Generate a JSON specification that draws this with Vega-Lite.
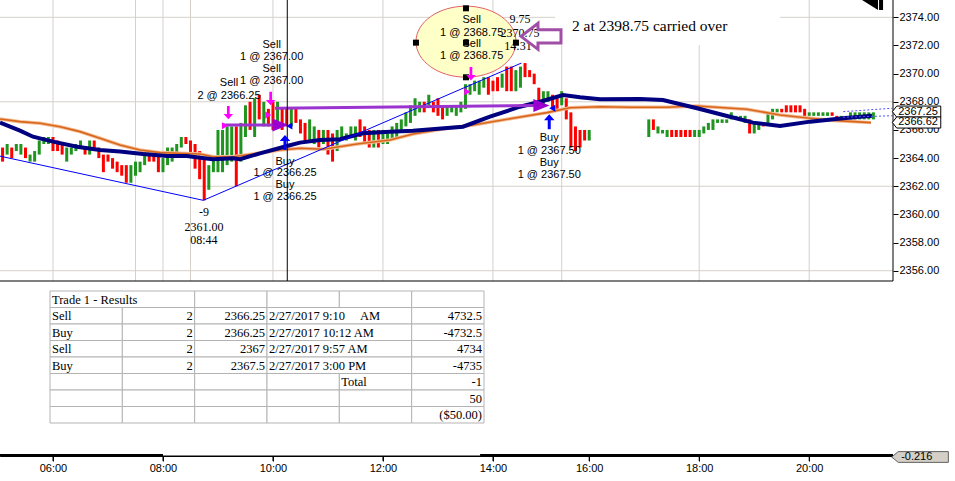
{
  "$schema": "https://vega.github.io/schema/vega-lite/v6.json",
  "description": "ES futures 5-minute bars with moving averages, trade markers and trade results table.",
  "width": 893,
  "height": 456,
  "autosize": {"type": "none"},
  "padding": {"left": 0, "top": 0, "right": 62, "bottom": 25},
  "background": "#ffffff",
  "config": {"view": {"stroke": null}},
  "datasets": {
    "bars": [
      {"m":305,"p":2363.75,"p2":2364.75,"d":"down"},{"m":310,"p":2364.25,"p2":2365,"d":"up"},{"m":315,"p":2364,"p2":2364.75,"d":"down"},
      {"m":320,"p":2364.5,"p2":2365,"d":"up"},{"m":325,"p":2364.25,"p2":2365,"d":"up"},{"m":330,"p":2364,"p2":2364.75,"d":"down"},
      {"m":335,"p":2363.75,"p2":2364.25,"d":"up"},{"m":340,"p":2363.75,"p2":2364.5,"d":"up"},{"m":345,"p":2364.25,"p2":2365.25,"d":"up"},
      {"m":350,"p":2365,"p2":2365.5,"d":"up"},{"m":355,"p":2365,"p2":2365.5,"d":"up"},{"m":360,"p":2364.5,"p2":2365.5,"d":"down"},
      {"m":365,"p":2364.5,"p2":2365.25,"d":"down"},{"m":370,"p":2364.25,"p2":2365,"d":"down"},{"m":375,"p":2363.75,"p2":2364.75,"d":"up"},
      {"m":380,"p":2364.25,"p2":2364.75,"d":"up"},{"m":385,"p":2364.5,"p2":2365,"d":"up"},{"m":390,"p":2364.75,"p2":2365.25,"d":"up"},
      {"m":395,"p":2364.25,"p2":2364.75,"d":"down"},{"m":400,"p":2364.25,"p2":2365.25,"d":"up"},{"m":405,"p":2364.5,"p2":2365.25,"d":"down"},
      {"m":410,"p":2364,"p2":2364.75,"d":"down"},{"m":415,"p":2363,"p2":2364.25,"d":"down"},{"m":420,"p":2363.75,"p2":2364.25,"d":"down"},
      {"m":425,"p":2363.25,"p2":2364,"d":"down"},{"m":430,"p":2363,"p2":2363.75,"d":"down"},{"m":435,"p":2362.75,"p2":2363.5,"d":"down"},
      {"m":440,"p":2362.25,"p2":2363.5,"d":"down"},{"m":445,"p":2362.25,"p2":2363.5,"d":"up"},{"m":450,"p":2362.75,"p2":2363.75,"d":"up"},
      {"m":455,"p":2363,"p2":2363.75,"d":"up"},{"m":460,"p":2363.5,"p2":2364.5,"d":"up"},{"m":465,"p":2363.75,"p2":2364.5,"d":"down"},
      {"m":470,"p":2363.75,"p2":2364.5,"d":"down"},{"m":475,"p":2363,"p2":2364.25,"d":"down"},{"m":480,"p":2363,"p2":2364,"d":"up"},
      {"m":485,"p":2363.5,"p2":2364.75,"d":"up"},{"m":490,"p":2363.75,"p2":2364.75,"d":"up"},{"m":495,"p":2364.25,"p2":2365,"d":"up"},
      {"m":500,"p":2364.75,"p2":2365.5,"d":"up"},{"m":505,"p":2365,"p2":2365.5,"d":"down"},{"m":510,"p":2364.25,"p2":2365.25,"d":"down"},
      {"m":515,"p":2363.25,"p2":2365,"d":"down"},{"m":520,"p":2362.5,"p2":2364.5,"d":"down"},{"m":525,"p":2361,"p2":2364,"d":"down"},
      {"m":530,"p":2361.75,"p2":2363.5,"d":"up"},{"m":535,"p":2363,"p2":2364,"d":"up"},{"m":540,"p":2363,"p2":2366,"d":"up"},
      {"m":545,"p":2363,"p2":2366,"d":"up"},{"m":550,"p":2363.5,"p2":2366.25,"d":"up"},{"m":555,"p":2363.75,"p2":2366.25,"d":"up"},
      {"m":560,"p":2362,"p2":2366.25,"d":"down"},{"m":565,"p":2363.75,"p2":2366.5,"d":"up"},{"m":570,"p":2365.5,"p2":2367.75,"d":"up"},
      {"m":575,"p":2366,"p2":2368,"d":"down"},{"m":580,"p":2365.5,"p2":2368.25,"d":"up"},{"m":585,"p":2366.75,"p2":2368.5,"d":"down"},
      {"m":590,"p":2366.25,"p2":2368,"d":"up"},{"m":595,"p":2366.25,"p2":2367.5,"d":"down"},{"m":600,"p":2366,"p2":2368,"d":"down"},
      {"m":605,"p":2366.25,"p2":2368,"d":"up"},{"m":610,"p":2366,"p2":2367.5,"d":"down"},{"m":615,"p":2366.25,"p2":2367.5,"d":"down"},
      {"m":620,"p":2366.25,"p2":2367.5,"d":"up"},{"m":625,"p":2366.5,"p2":2367.5,"d":"down"},{"m":630,"p":2365.75,"p2":2366.75,"d":"down"},
      {"m":635,"p":2365.25,"p2":2366.5,"d":"down"},{"m":640,"p":2365.25,"p2":2366.75,"d":"up"},{"m":645,"p":2365,"p2":2366.25,"d":"up"},
      {"m":650,"p":2364.75,"p2":2366,"d":"down"},{"m":655,"p":2365,"p2":2366,"d":"up"},{"m":660,"p":2364.25,"p2":2366,"d":"down"},
      {"m":665,"p":2363.75,"p2":2365.75,"d":"down"},{"m":670,"p":2364.5,"p2":2366,"d":"up"},{"m":675,"p":2365.25,"p2":2366.25,"d":"up"},
      {"m":680,"p":2365.25,"p2":2365.75,"d":"up"},{"m":685,"p":2365.5,"p2":2366.25,"d":"up"},{"m":690,"p":2365.25,"p2":2366.25,"d":"up"},
      {"m":695,"p":2365.5,"p2":2366.75,"d":"down"},{"m":700,"p":2365,"p2":2366.25,"d":"down"},{"m":705,"p":2364.75,"p2":2366,"d":"down"},
      {"m":710,"p":2364.75,"p2":2366,"d":"up"},{"m":715,"p":2364.75,"p2":2366,"d":"down"},{"m":720,"p":2365,"p2":2366,"d":"up"},
      {"m":725,"p":2365,"p2":2365.75,"d":"up"},{"m":730,"p":2365.25,"p2":2366.25,"d":"up"},{"m":735,"p":2365.5,"p2":2366.5,"d":"up"},
      {"m":740,"p":2366,"p2":2366.75,"d":"up"},{"m":745,"p":2366.25,"p2":2367.25,"d":"up"},{"m":750,"p":2366.5,"p2":2367.75,"d":"up"},
      {"m":755,"p":2367,"p2":2368.25,"d":"up"},{"m":760,"p":2367.25,"p2":2368,"d":"up"},{"m":765,"p":2367.25,"p2":2368,"d":"down"},
      {"m":770,"p":2367.75,"p2":2368.5,"d":"up"},{"m":775,"p":2367.25,"p2":2368,"d":"down"},{"m":780,"p":2367,"p2":2368.25,"d":"down"},
      {"m":785,"p":2366.75,"p2":2367.75,"d":"down"},{"m":790,"p":2367,"p2":2367.75,"d":"up"},{"m":795,"p":2367.25,"p2":2367.75,"d":"up"},
      {"m":800,"p":2367,"p2":2367.75,"d":"up"},{"m":805,"p":2367.25,"p2":2368,"d":"up"},{"m":810,"p":2367.5,"p2":2369.25,"d":"up"},
      {"m":815,"p":2368.5,"p2":2369.25,"d":"up"},{"m":820,"p":2368.75,"p2":2369.5,"d":"up"},{"m":825,"p":2368.5,"p2":2369.5,"d":"up"},
      {"m":830,"p":2369,"p2":2369.75,"d":"up"},{"m":835,"p":2368.5,"p2":2369.75,"d":"down"},{"m":840,"p":2368.75,"p2":2369.5,"d":"down"},
      {"m":845,"p":2368.75,"p2":2369.75,"d":"down"},{"m":850,"p":2369,"p2":2370,"d":"up"},{"m":855,"p":2368.75,"p2":2370.5,"d":"down"},
      {"m":860,"p":2368.75,"p2":2370.5,"d":"down"},{"m":865,"p":2368.75,"p2":2370.25,"d":"up"},{"m":870,"p":2369,"p2":2370.5,"d":"up"},
      {"m":875,"p":2369.75,"p2":2370.75,"d":"down"},{"m":880,"p":2369.75,"p2":2370.25,"d":"down"},{"m":885,"p":2369.25,"p2":2370,"d":"down"},
      {"m":890,"p":2368,"p2":2369,"d":"down"},{"m":895,"p":2367.75,"p2":2368.75,"d":"up"},{"m":900,"p":2368,"p2":2368.75,"d":"up"},
      {"m":905,"p":2367.5,"p2":2368.5,"d":"down"},{"m":910,"p":2367.5,"p2":2368.25,"d":"down"},{"m":930,"p":2367.75,"p2":2368.75,"d":"up"},
      {"m":935,"p":2366.75,"p2":2368.25,"d":"down"},{"m":940,"p":2364.75,"p2":2367.25,"d":"down"},{"m":945,"p":2364.5,"p2":2366.25,"d":"down"},
      {"m":950,"p":2364.75,"p2":2366,"d":"down"},{"m":955,"p":2365.25,"p2":2366,"d":"down"},{"m":960,"p":2365.25,"p2":2366,"d":"up"},
      {"m":1025,"p":2365.5,"p2":2366.75,"d":"up"},{"m":1030,"p":2366,"p2":2366.75,"d":"down"},{"m":1035,"p":2365.75,"p2":2366.25,"d":"up"},
      {"m":1040,"p":2365.75,"p2":2366,"d":"up"},{"m":1045,"p":2365.5,"p2":2366,"d":"up"},{"m":1050,"p":2365.5,"p2":2366,"d":"down"},
      {"m":1055,"p":2365.5,"p2":2366,"d":"down"},{"m":1060,"p":2365.5,"p2":2366,"d":"down"},{"m":1065,"p":2365.5,"p2":2366,"d":"down"},
      {"m":1070,"p":2365.5,"p2":2366,"d":"down"},{"m":1075,"p":2365.5,"p2":2366,"d":"up"},{"m":1080,"p":2365.5,"p2":2366,"d":"up"},
      {"m":1085,"p":2365.75,"p2":2366.25,"d":"up"},{"m":1090,"p":2366,"p2":2366.5,"d":"up"},{"m":1095,"p":2366,"p2":2366.75,"d":"up"},
      {"m":1100,"p":2366.5,"p2":2366.75,"d":"up"},{"m":1105,"p":2366.5,"p2":2366.75,"d":"up"},{"m":1110,"p":2366.5,"p2":2366.75,"d":"up"},
      {"m":1115,"p":2366.75,"p2":2367.25,"d":"up"},{"m":1120,"p":2366.75,"p2":2367,"d":"up"},{"m":1125,"p":2366.75,"p2":2367,"d":"up"},
      {"m":1130,"p":2366.5,"p2":2367,"d":"up"},{"m":1135,"p":2365.75,"p2":2366.75,"d":"down"},{"m":1140,"p":2365.75,"p2":2366.5,"d":"up"},
      {"m":1145,"p":2366,"p2":2366.5,"d":"up"},{"m":1150,"p":2366.25,"p2":2366.5,"d":"down"},{"m":1155,"p":2366.5,"p2":2367.25,"d":"up"},
      {"m":1160,"p":2366.75,"p2":2367.5,"d":"up"},{"m":1165,"p":2367.25,"p2":2367.5,"d":"up"},{"m":1170,"p":2367.25,"p2":2367.5,"d":"down"},
      {"m":1175,"p":2367.25,"p2":2367.75,"d":"down"},{"m":1180,"p":2367.25,"p2":2367.75,"d":"down"},{"m":1185,"p":2367.25,"p2":2367.75,"d":"down"},
      {"m":1190,"p":2367.25,"p2":2367.75,"d":"down"},{"m":1195,"p":2367,"p2":2367.5,"d":"down"},{"m":1200,"p":2367,"p2":2367.25,"d":"up"},
      {"m":1205,"p":2367,"p2":2367.25,"d":"up"},{"m":1210,"p":2367,"p2":2367.25,"d":"up"},{"m":1215,"p":2367,"p2":2367.25,"d":"up"},
      {"m":1220,"p":2367,"p2":2367.25,"d":"up"},{"m":1225,"p":2367,"p2":2367.25,"d":"down"},{"m":1230,"p":2366.75,"p2":2367,"d":"down"},
      {"m":1235,"p":2366.75,"p2":2367,"d":"up"},{"m":1240,"p":2366.75,"p2":2367,"d":"up"},{"m":1245,"p":2366.75,"p2":2367.25,"d":"up"},
      {"m":1250,"p":2366.75,"p2":2367.25,"d":"up"},{"m":1255,"p":2366.75,"p2":2367.25,"d":"up"},{"m":1260,"p":2366.75,"p2":2367.25,"d":"up"},
      {"m":1265,"p":2366.75,"p2":2367.25,"d":"up"},{"m":1270,"p":2366.75,"p2":2367.25,"d":"up"}
    ],
    "navy": [
      {"m":302.2,"p":2366.52},{"m":324,"p":2365.95},{"m":338.2,"p":2365.52},{"m":360,"p":2365.17},{"m":386.2,"p":2364.81},
      {"m":411.3,"p":2364.58},{"m":433.1,"p":2364.47},{"m":458.2,"p":2364.29},{"m":484.4,"p":2364.15},{"m":506.2,"p":2364.15},
      {"m":520.4,"p":2364.03},{"m":534.6,"p":2363.92},{"m":556.4,"p":2363.99},{"m":564,"p":2363.92},{"m":585.8,"p":2364.34},
      {"m":615.3,"p":2364.86},{"m":629.5,"p":2365.1},{"m":651.3,"p":2365.29},{"m":673.1,"p":2365.34},{"m":698.2,"p":2365.76},
      {"m":727.7,"p":2365.88},{"m":752.7,"p":2365.95},{"m":807.3,"p":2366.23},{"m":836.7,"p":2366.94},{"m":869.5,"p":2367.65},
      {"m":891.3,"p":2368},{"m":931.4,"p":2368.48},{"m":950,"p":2368.32},{"m":971.8,"p":2368.18},{"m":1015.4,"p":2368.2},
      {"m":1040.5,"p":2368.13},{"m":1077.6,"p":2367.54},{"m":1113.6,"p":2366.94},{"m":1138.7,"p":2366.52},{"m":1168.2,"p":2366.28},
      {"m":1200.9,"p":2366.59},{"m":1236.9,"p":2366.83},{"m":1268.5,"p":2367}
    ],
    "orange": [
      {"m":302.2,"p":2366.78},{"m":324,"p":2366.59},{"m":345.8,"p":2366.47},{"m":367.7,"p":2366.23},{"m":389.5,"p":2365.88},
      {"m":411.3,"p":2365.41},{"m":433.1,"p":2364.93},{"m":454.9,"p":2364.58},{"m":476.7,"p":2364.39},{"m":498.6,"p":2364.34},
      {"m":520.4,"p":2364.29},{"m":534.6,"p":2364.1},{"m":556.4,"p":2364.1},{"m":578.2,"p":2364.29},{"m":607.6,"p":2364.58},
      {"m":629.5,"p":2364.7},{"m":654.6,"p":2364.63},{"m":691.6,"p":2365},{"m":727.7,"p":2365.29},{"m":752.7,"p":2365.71},
      {"m":789.8,"p":2366.12},{"m":818.2,"p":2366.35},{"m":861.8,"p":2366.83},{"m":899,"p":2367.23},{"m":939,"p":2367.58},
      {"m":971.8,"p":2367.65},{"m":1004.5,"p":2367.61},{"m":1044.8,"p":2367.61},{"m":1077.6,"p":2367.7},{"m":1132.1,"p":2367.47},
      {"m":1168.2,"p":2367.06},{"m":1200.9,"p":2366.83},{"m":1230.3,"p":2366.66},{"m":1267.4,"p":2366.52}
    ],
    "zigzag": [{"m":302.2,"p":2364.14},{"m":524,"p":2361},{"m":871,"p":2370.75}],
    "dotted": [
      {"s":"last","m":1237.2,"p":2367.3},{"s":"last","m":1290.6,"p":2367.54},
      {"s":"avg","m":1236.9,"p":2366.9},{"s":"avg","m":1290.6,"p":2367.01}
    ],
    "hgrid": [
      {"p":2356,"m":302.2,"m2":1291.4},{"p":2362,"m":302.2,"m2":1291.4},
      {"p":2368,"m":302.2,"m2":1291.4},{"p":2374,"m":302.2,"m2":1291.4}
    ],
    "vgrid": [
      {"m":360,"p":2355.27,"p2":2375.23},{"m":450,"p":2355.27,"p2":2375.23},{"m":480,"p":2355.27,"p2":2375.23},
      {"m":510,"p":2355.27,"p2":2375.23},{"m":600,"p":2355.27,"p2":2375.23},{"m":720,"p":2355.27,"p2":2375.23},
      {"m":840,"p":2355.27,"p2":2375.23},{"m":915,"p":2355.27,"p2":2375.23},{"m":1080,"p":2355.27,"p2":2375.23},
      {"m":1200,"p":2355.27,"p2":2375.23}
    ],
    "frameH": [
      {"part":"panel bottom","p":2355.27,"m":302.2,"m2":1291.4},
      {"part":"time axis","p":2342.84,"m":302.2,"m2":1291.4}
    ],
    "frameV": [
      {"part":"price axis","m":1291.4,"p":2355.27,"p2":2375.23},
      {"part":"cursor","m":615.6,"p":2355.27,"p2":2375.23}
    ],
    "indicator": [{"m":302.2,"m2":480,"p":2342.89},{"m":826,"m2":1291.4,"p":2342.89}],
    "timeTicks": [
      {"m":360,"p":2342.84,"p2":2342.48},{"m":480,"p":2342.84,"p2":2342.48},{"m":600,"p":2342.84,"p2":2342.48},
      {"m":720,"p":2342.84,"p2":2342.48},{"m":840,"p":2342.84,"p2":2342.48},{"m":960,"p":2342.84,"p2":2342.48},
      {"m":1080,"p":2342.84,"p2":2342.48},{"m":1200,"p":2342.84,"p2":2342.48}
    ],
    "trades": [
      {"trade":"1a","m":545.5,"p":2366.35},{"trade":"1a","m":606,"p":2366.35},
      {"trade":"1b","m":602.2,"p":2367.54},{"trade":"1b","m":890,"p":2367.74}
    ],
    "tradeEnds": [{"m":608.2,"p":2366.35},{"m":892.9,"p":2367.74}],
    "sellArrows": [{"m":551.3,"p":2367.23},{"m":597.5,"p":2368.23},{"m":816,"p":2369.99}],
    "buyArrows": [{"m":613.1,"p":2365.11},{"m":901.4,"p":2366.59}],
    "entries": [{"m":547.7,"p":2366.3},{"m":594.9,"p":2367.06},{"m":812,"p":2368.72}],
    "exits": [{"m":617.8,"p":2366.28},{"m":904.7,"p":2367.54}],
    "orders": [
      {"m":598.6,"p":2372.03,"t":"Sell"},{"m":598.6,"p":2371.18,"t":"1 @ 2367.00"},
      {"m":598.6,"p":2370.33,"t":"Sell"},{"m":598.6,"p":2369.48,"t":"1 @ 2367.00"},
      {"m":552,"p":2369.3,"t":"Sell"},{"m":552,"p":2368.41,"t":"2 @ 2366.25"},
      {"m":613.1,"p":2363.75,"t":"Buy"},{"m":613.1,"p":2362.92,"t":"1 @ 2366.25"},
      {"m":613.1,"p":2362.09,"t":"Buy"},{"m":613.1,"p":2361.26,"t":"1 @ 2366.25"},
      {"m":816.8,"p":2373.81,"t":"Sell"},{"m":816.8,"p":2372.91,"t":"1 @ 2368.75"},
      {"m":816.8,"p":2372.1,"t":"Sell"},{"m":816.8,"p":2371.25,"t":"1 @ 2368.75"},
      {"m":901.4,"p":2365.41,"t":"Buy"},{"m":901.4,"p":2364.53,"t":"1 @ 2367.50"},
      {"m":901.4,"p":2363.63,"t":"Buy"},{"m":901.4,"p":2362.8,"t":"1 @ 2367.50"}
    ],
    "swings": [
      {"m":524.7,"p":2360.15,"t":"-9"},{"m":524.7,"p":2359.13,"t":"2361.00"},{"m":524.7,"p":2358.18,"t":"08:44"},
      {"m":869.5,"p":2373.85,"t":"9.75"},{"m":869.5,"p":2372.91,"t":"2370.75"},{"m":867.3,"p":2371.93,"t":"14:31"}
    ],
    "handles": [
      {"m":810.6,"p":2374.64},{"m":756,"p":2372.2},{"m":810.6,"p":2372.2},{"m":865.1,"p":2372.2},{"m":810.6,"p":2369.74}
    ],
    "cells": [
      {"r0":0,"r1":1,"c0":0,"c1":2,"t":"Trade 1 - Results","num":false},
      {"r0":0,"r1":1,"c0":2,"c1":3,"t":"","num":false},{"r0":0,"r1":1,"c0":3,"c1":4,"t":"","num":false},
      {"r0":0,"r1":1,"c0":4,"c1":5,"t":"","num":false},{"r0":0,"r1":1,"c0":5,"c1":6,"t":"","num":false},
      {"r0":1,"r1":2,"c0":0,"c1":1,"t":"Sell","num":false},{"r0":1,"r1":2,"c0":1,"c1":2,"t":"2","num":true},
      {"r0":1,"r1":2,"c0":2,"c1":3,"t":"2366.25","num":true},{"r0":1,"r1":2,"c0":3,"c1":5,"t":"2/27/2017 9:10\u00a0\u00a0\u00a0\u00a0 AM","num":false},
      {"r0":1,"r1":2,"c0":5,"c1":6,"t":"4732.5","num":true},
      {"r0":2,"r1":3,"c0":0,"c1":1,"t":"Buy","num":false},{"r0":2,"r1":3,"c0":1,"c1":2,"t":"2","num":true},
      {"r0":2,"r1":3,"c0":2,"c1":3,"t":"2366.25","num":true},{"r0":2,"r1":3,"c0":3,"c1":5,"t":"2/27/2017 10:12 AM","num":false},
      {"r0":2,"r1":3,"c0":5,"c1":6,"t":"-4732.5","num":true},
      {"r0":3,"r1":4,"c0":0,"c1":1,"t":"Sell","num":false},{"r0":3,"r1":4,"c0":1,"c1":2,"t":"2","num":true},
      {"r0":3,"r1":4,"c0":2,"c1":3,"t":"2367","num":true},{"r0":3,"r1":4,"c0":3,"c1":5,"t":"2/27/2017 9:57 AM","num":false},
      {"r0":3,"r1":4,"c0":5,"c1":6,"t":"4734","num":true},
      {"r0":4,"r1":5,"c0":0,"c1":1,"t":"Buy","num":false},{"r0":4,"r1":5,"c0":1,"c1":2,"t":"2","num":true},
      {"r0":4,"r1":5,"c0":2,"c1":3,"t":"2367.5","num":true},{"r0":4,"r1":5,"c0":3,"c1":5,"t":"2/27/2017 3:00 PM","num":false},
      {"r0":4,"r1":5,"c0":5,"c1":6,"t":"-4735","num":true},
      {"r0":5,"r1":6,"c0":0,"c1":1,"t":"","num":false},{"r0":5,"r1":6,"c0":1,"c1":2,"t":"","num":false},
      {"r0":5,"r1":6,"c0":2,"c1":3,"t":"","num":false},{"r0":5,"r1":6,"c0":3,"c1":4,"t":"","num":false},
      {"r0":5,"r1":6,"c0":4,"c1":5,"t":"Total","num":false},{"r0":5,"r1":6,"c0":5,"c1":6,"t":"-1","num":true},
      {"r0":6,"r1":7,"c0":0,"c1":1,"t":"","num":false},{"r0":6,"r1":7,"c0":1,"c1":2,"t":"","num":false},
      {"r0":6,"r1":7,"c0":2,"c1":3,"t":"","num":false},{"r0":6,"r1":7,"c0":3,"c1":4,"t":"","num":false},
      {"r0":6,"r1":7,"c0":4,"c1":5,"t":"","num":false},{"r0":6,"r1":7,"c0":5,"c1":6,"t":"50","num":true},
      {"r0":7,"r1":8,"c0":0,"c1":1,"t":"","num":false},{"r0":7,"r1":8,"c0":1,"c1":2,"t":"","num":false},
      {"r0":7,"r1":8,"c0":2,"c1":3,"t":"","num":false},{"r0":7,"r1":8,"c0":3,"c1":4,"t":"","num":false},
      {"r0":7,"r1":8,"c0":4,"c1":5,"t":"","num":false},{"r0":7,"r1":8,"c0":5,"c1":6,"t":"($50.00)","num":true}
    ]
  },
  "layer": [
    {
      "encoding": {
        "x": {
          "field": "m", "type": "quantitative",
          "scale": {"domain": [302.2, 915, 930, 1291.4], "range": [0, 561.7, 561.7, 893], "nice": false, "zero": false},
          "axis": {
            "title": null, "grid": false, "values": [360, 480, 600, 720, 840, 960, 1080, 1200],
            "labelExpr": "(datum.value < 600 ? '0' : '') + floor(datum.value / 60) + ':00'",
            "domainColor": "#000000", "tickColor": "#000000", "tickSize": 5,
            "labelFont": "Liberation Sans", "labelFontSize": 11, "labelColor": "#000000",
            "labelPadding": 1, "labelFlush": false, "labelOverlap": false
          }
        },
        "y": {
          "field": "p", "type": "quantitative",
          "scale": {"domain": [2342.84, 2375.23], "nice": false, "zero": false},
          "axis": {
            "title": null, "orient": "right", "grid": false, "domain": false,
            "values": [2356, 2358, 2360, 2362, 2364, 2366, 2368, 2370, 2372, 2374], "format": ".2f",
            "tickColor": "#000000", "tickSize": 5,
            "labelFont": "Liberation Sans", "labelFontSize": 11, "labelColor": "#000000",
            "labelPadding": 1, "labelFlush": false, "labelOverlap": false
          }
        }
      },
      "layer": [
        {
          "data": {"name": "hgrid"},
          "mark": {"type": "rule", "color": "#d4d0c8", "strokeWidth": 1},
          "encoding": {"x2": {"field": "m2"}}
        },
        {
          "data": {"name": "vgrid"},
          "mark": {"type": "rule", "color": "#d4d0c8", "strokeWidth": 1},
          "encoding": {"y2": {"field": "p2"}}
        },
        {
          "data": {"values": [{"m": 907.7, "m2": 1168.1, "p": 2372.03, "p2": 2375.23}]},
          "mark": {"type": "rect", "color": "#ffffff"},
          "encoding": {"x2": {"field": "m2"}, "y2": {"field": "p2"}}
        },
        {
          "data": {"name": "frameH"},
          "mark": {"type": "rule", "color": "#000000", "strokeWidth": 1},
          "encoding": {"x2": {"field": "m2"}}
        },
        {
          "data": {"name": "indicator"},
          "mark": {"type": "rule", "color": "#000000", "strokeWidth": 2.5},
          "encoding": {"x2": {"field": "m2"}}
        },
        {
          "data": {"name": "timeTicks"},
          "mark": {"type": "rule", "color": "#000000", "strokeWidth": 1},
          "encoding": {"y2": {"field": "p2"}}
        },
        {
          "data": {"name": "bars"},
          "mark": {"type": "rule", "strokeWidth": 3},
          "encoding": {
            "y2": {"field": "p2"},
            "color": {"field": "d", "type": "nominal", "scale": {"domain": ["up", "down"], "range": ["#1f951f", "#ff0000"]}, "legend": null}
          }
        },
        {
          "data": {"values": [{"p": 2369.5, "p2": 2370}]},
          "mark": {"type": "rect", "color": "#ff0000", "opacity": 0.4},
          "encoding": {"x": {"datum": 302.2}, "x2": {"datum": 1291.4}, "y2": {"field": "p2"}}
        },
        {
          "data": {"values": [{"p": 2365.5, "p2": 2366}]},
          "mark": {"type": "rect", "color": "#008000", "opacity": 0.4},
          "encoding": {"x": {"datum": 302.2}, "x2": {"datum": 1291.4}, "y2": {"field": "p2"}}
        },
        {
          "data": {"name": "orange"},
          "mark": {"type": "line", "color": "#f4bb92", "strokeWidth": 3.5},
          "encoding": {}
        },
        {
          "data": {"name": "orange"},
          "mark": {"type": "line", "color": "#d8661c", "strokeWidth": 1.6},
          "encoding": {}
        },
        {
          "data": {"name": "navy"},
          "mark": {"type": "line", "color": "#000080", "strokeWidth": 4},
          "encoding": {}
        },
        {
          "data": {"name": "zigzag"},
          "mark": {"type": "line", "color": "#0000ff", "strokeWidth": 1},
          "encoding": {}
        },
        {
          "data": {"name": "dotted"},
          "mark": {"type": "line", "color": "#5050ff", "strokeWidth": 1, "strokeDash": [2, 2]},
          "encoding": {"detail": {"field": "s"}}
        },
        {
          "data": {"name": "trades"},
          "mark": {"type": "line", "color": "#9b33cf", "strokeWidth": 3},
          "encoding": {"detail": {"field": "trade"}}
        },
        {
          "data": {"name": "tradeEnds"},
          "mark": {"type": "point", "shape": "M-1,-0.8L1,0L-1,0.8Z", "size": 260, "filled": true, "color": "#9b00d0", "opacity": 1},
          "encoding": {}
        },
        {
          "data": {"name": "frameV"},
          "mark": {"type": "rule", "color": "#000000", "strokeWidth": 1},
          "encoding": {"y2": {"field": "p2"}}
        },
        {
          "data": {"values": [{"m": 810.6, "p": 2372.27}]},
          "mark": {"type": "point", "shape": "M-1,0A1,0.71,0,1,1,1,0A1,0.71,0,1,1,-1,0Z", "size": 10000, "filled": true, "fill": "#ffffc8", "stroke": "#e0606a", "strokeWidth": 1, "opacity": 1},
          "encoding": {}
        },
        {
          "data": {"name": "handles"},
          "mark": {"type": "point", "shape": "square", "size": 36, "filled": true, "color": "#000000", "opacity": 1},
          "encoding": {}
        },
        {
          "data": {"name": "sellArrows"},
          "mark": {"type": "point", "shape": "M-0.2,-1L0.2,-1L0.2,0.2L0.7,0.2L0,1L-0.7,0.2L-0.2,0.2Z", "size": 180, "filled": true, "color": "#ff00ff", "opacity": 1},
          "encoding": {}
        },
        {
          "data": {"name": "buyArrows"},
          "mark": {"type": "point", "shape": "M-0.2,1L0.2,1L0.2,-0.2L0.7,-0.2L0,-1L-0.7,-0.2L-0.2,-0.2Z", "size": 225, "filled": true, "color": "#0000ff", "opacity": 1},
          "encoding": {}
        },
        {
          "data": {"name": "entries"},
          "mark": {"type": "point", "shape": "triangle-right", "size": 50, "filled": true, "color": "#ff00ff", "opacity": 1},
          "encoding": {}
        },
        {
          "data": {"name": "exits"},
          "mark": {"type": "point", "shape": "triangle-left", "size": 50, "filled": true, "color": "#0000ff", "opacity": 1},
          "encoding": {}
        },
        {
          "data": {"name": "orders"},
          "mark": {"type": "text", "font": "Liberation Sans", "fontSize": 11, "align": "center", "baseline": "middle", "color": "#000000"},
          "encoding": {"text": {"field": "t"}}
        },
        {
          "data": {"name": "swings"},
          "mark": {"type": "text", "font": "Liberation Serif", "fontSize": 12, "align": "center", "baseline": "middle", "color": "#000000"},
          "encoding": {"text": {"field": "t"}}
        },
        {
          "data": {"values": [{"m": 941.2, "p": 2373.38, "t": "2 at 2398.75 carried over"}]},
          "mark": {"type": "text", "font": "Liberation Serif", "fontSize": 15.5, "align": "left", "baseline": "middle", "color": "#000000"},
          "encoding": {"text": {"field": "t"}}
        },
        {
          "data": {"values": [{"m": 892.4, "p": 2372.65}]},
          "mark": {"type": "point", "shape": "M-1,0L-0.15,-0.65L-0.15,-0.33L1,-0.33L1,0.33L-0.15,0.33L-0.15,0.65Z", "size": 1600, "filled": false, "stroke": "#a04ea6", "strokeWidth": 3, "strokeJoin": "miter", "opacity": 1},
          "encoding": {}
        },
        {
          "data": {"values": [{"m": 1317.1, "p": 2367.3}, {"m": 1317.1, "p": 2366.53}]},
          "mark": {"type": "point", "shape": "M-1,0L-0.82,-0.23L1,-0.23L1,0.23L-0.82,0.23Z", "size": 2343, "filled": true, "fill": "#ffffff", "stroke": "#000000", "strokeWidth": 1, "opacity": 1},
          "encoding": {}
        },
        {
          "data": {"values": [{"m": 1318.7, "p": 2367.3, "t": "2367.25"}, {"m": 1318.7, "p": 2366.53, "t": "2366.62"}]},
          "mark": {"type": "text", "font": "Liberation Sans", "fontSize": 11, "align": "center", "baseline": "middle", "color": "#000000"},
          "encoding": {"text": {"field": "t"}}
        },
        {
          "data": {"values": [{"m": 1320.9, "p": 2342.77}]},
          "mark": {"type": "point", "shape": "M-1,0L-0.77,-0.19L1,-0.19L1,0.19L-0.77,0.19Z", "size": 3204, "filled": true, "fill": "#d4d0c8", "stroke": "#606060", "strokeWidth": 1, "opacity": 1},
          "encoding": {}
        },
        {
          "data": {"values": [{"m": 1317.3, "p": 2342.77, "t": "-0.216"}]},
          "mark": {"type": "text", "font": "Liberation Sans", "fontSize": 11, "align": "center", "baseline": "middle", "color": "#000000"},
          "encoding": {"text": {"field": "t"}}
        },
        {
          "data": {"values": [{"m": 1269.1, "p": 2374.87}]},
          "mark": {"type": "point", "shape": "M-1,-0.48L0.52,-0.48L0.52,0.48ZM0.62,-0.48L1,-0.48L1,0.48L0.62,0.48Z", "size": 441, "filled": true, "color": "#000000", "opacity": 1},
          "encoding": {}
        }
      ]
    },
    {
      "data": {"name": "cells"},
      "encoding": {
        "x": {"field": "c0", "type": "quantitative", "scale": {"domain": [0, 6], "range": [50, 484], "nice": false, "zero": false}, "axis": null},
        "y": {"field": "r0", "type": "quantitative", "scale": {"domain": [0, 8], "range": [291, 423], "nice": false, "zero": false}, "axis": null}
      },
      "layer": [
        {
          "mark": {"type": "rect", "fill": "#ffffff", "stroke": "#b4b4b4", "strokeWidth": 1},
          "encoding": {"x2": {"field": "c1"}, "y2": {"field": "r1"}}
        },
        {
          "transform": [{"filter": "!datum.num"}],
          "mark": {"type": "text", "font": "Liberation Serif", "fontSize": 12.5, "align": "left", "baseline": "middle", "dx": 2, "dy": 8.5, "color": "#000000"},
          "encoding": {"text": {"field": "t"}}
        },
        {
          "transform": [{"filter": "datum.num"}],
          "mark": {"type": "text", "font": "Liberation Serif", "fontSize": 12.5, "align": "right", "baseline": "middle", "dx": -2, "dy": 8.5, "color": "#000000"},
          "encoding": {"x": {"field": "c1", "type": "quantitative"}, "text": {"field": "t"}}
        }
      ]
    }
  ],
  "resolve": {"scale": {"x": "independent", "y": "independent"}}
}
